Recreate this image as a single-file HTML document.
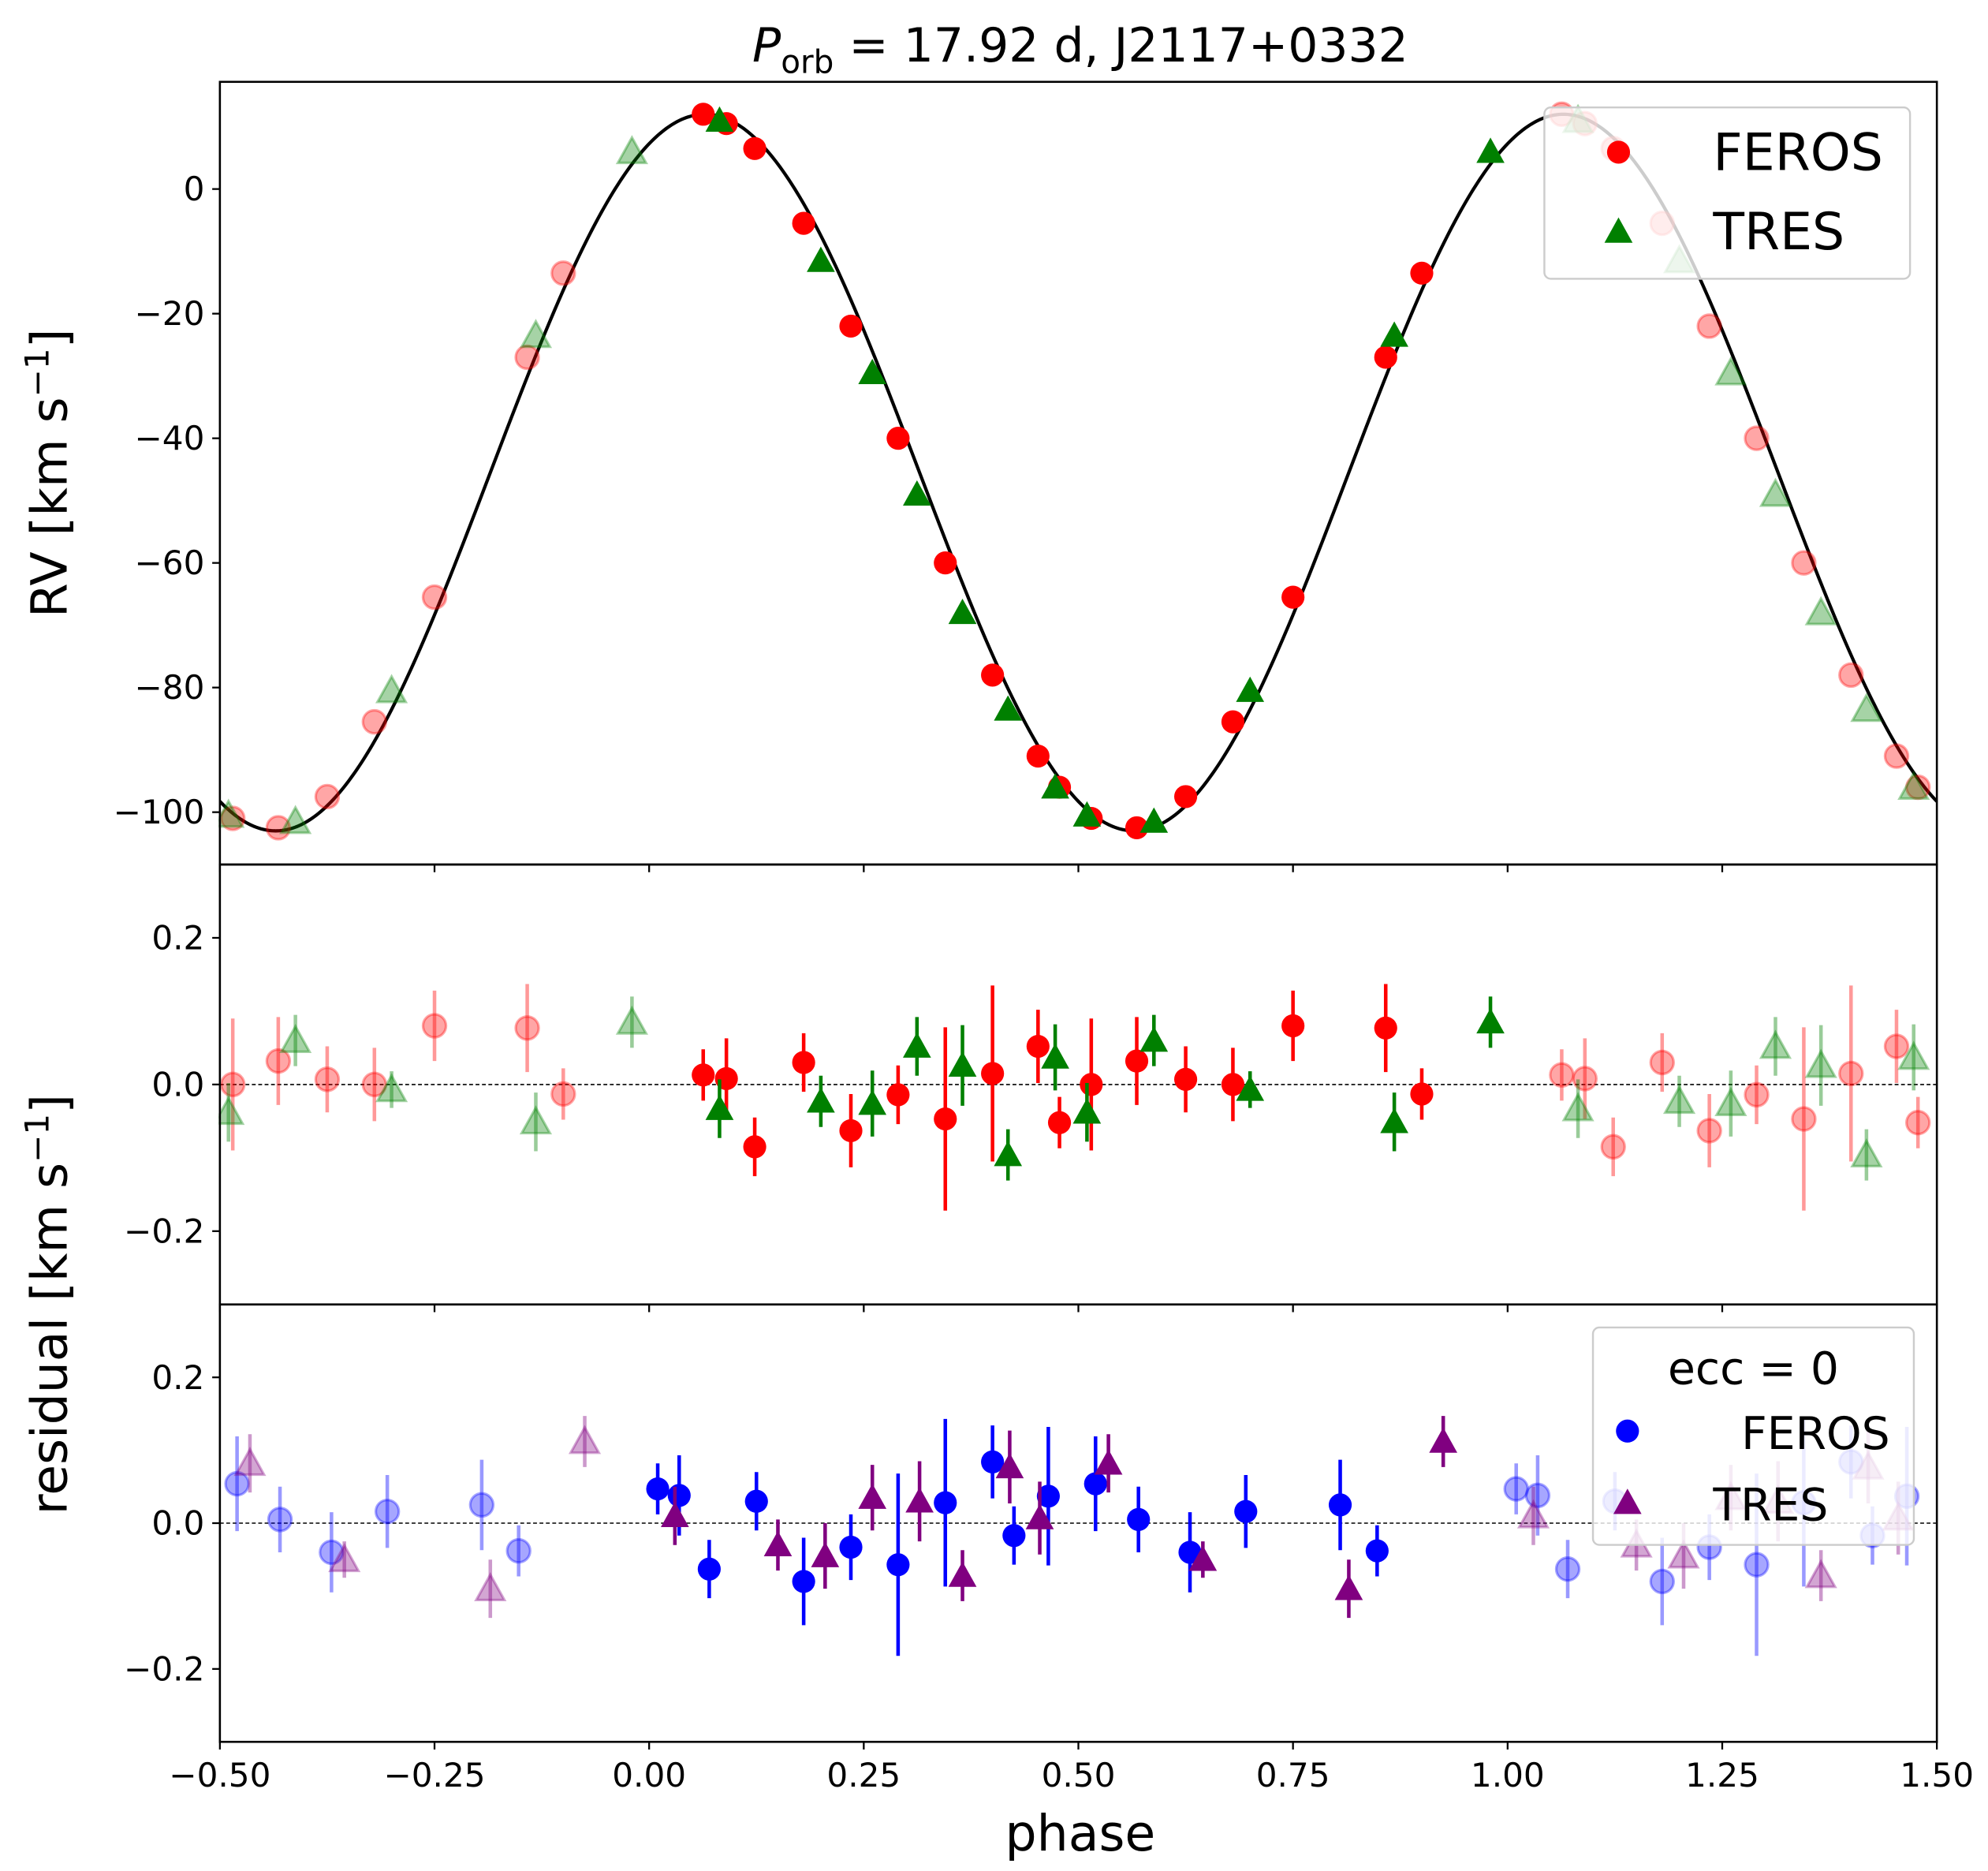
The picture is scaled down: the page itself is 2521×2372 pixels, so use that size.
<!DOCTYPE html>
<html><head><meta charset="utf-8"><style>
html,body{margin:0;padding:0;background:#fff}
svg{display:block}
text{font-family:"DejaVu Sans","Liberation Sans",sans-serif;fill:#000}
</style></head><body>
<svg id="chart" width="2521" height="2372" viewBox="0 0 1555 1463" preserveAspectRatio="none" xmlns="http://www.w3.org/2000/svg">
<g id="plot"></g>
</svg>
<script>
// ---- data ----
const feros_phase=[0.063,0.09,0.123,0.18,0.235,0.29,0.345,0.40,0.453,0.478,0.515,0.568,0.625,0.68,0.75,0.858,0.90];
const feros_rv=[12,10.5,6.5,-5.5,-22,-40,-60,-78,-91,-96,-101,-102.5,-97.5,-85.5,-65.5,-27,-13.5];
const feros_res=[0.013,0.008,-0.085,0.03,-0.063,-0.014,-0.047,0.015,0.052,-0.052,0,0.032,0.007,0,0.08,0.077,-0.013];
const feros_err=[0.035,0.055,0.04,0.04,0.05,0.04,0.125,0.12,0.05,0.035,0.09,0.06,0.045,0.05,0.048,0.06,0.035];
const tres_phase=[0.082,0.2,0.26,0.312,0.365,0.418,0.473,0.51,0.588,0.70,0.868,0.98];
const tres_rv=[11,-11.5,-29.5,-49,-68,-83.5,-96,-100.5,-101.5,-80.5,-23.5,6];
const tres_res=[-0.033,-0.023,-0.026,0.052,0.026,-0.096,0.037,-0.038,0.06,-0.007,-0.051,0.085];
const tres_err=[0.04,0.035,0.045,0.04,0.055,0.035,0.045,0.04,0.035,0.025,0.04,0.035];
const c_feros_phase=[0.01,0.035,0.07,0.125,0.18,0.235,0.29,0.345,0.40,0.425,0.465,0.52,0.57,0.63,0.695,0.805,0.848];
const c_feros_res=[0.047,0.038,-0.063,0.03,-0.08,-0.033,-0.057,0.028,0.084,-0.017,0.037,0.054,0.005,-0.04,0.016,0.025,-0.038];
const c_feros_err=[0.035,0.055,0.04,0.04,0.06,0.045,0.125,0.115,0.05,0.04,0.095,0.065,0.045,0.055,0.05,0.062,0.035];
const c_tres_phase=[0.03,0.15,0.205,0.26,0.315,0.365,0.42,0.455,0.535,0.645,0.815,0.925];
const c_tres_res=[0.01,-0.03,-0.045,0.035,0.03,-0.072,0.077,0.007,0.082,-0.05,-0.09,0.112];
const c_tres_err=[0.04,0.035,0.045,0.045,0.055,0.035,0.05,0.05,0.04,0.025,0.04,0.035];
const x_ticks=[-0.5,-0.25,0,0.25,0.5,0.75,1.0,1.25,1.5];
const x_tick_labels=["\u22120.50","\u22120.25","0.00","0.25","0.50","0.75","1.00","1.25","1.50"];
const rv_ticks=[0,-20,-40,-60,-80,-100];
const rv_tick_labels=["0","\u221220","\u221240","\u221260","\u221280","\u2212100"];
const res_ticks=[0.2,0,-0.2];
const res_tick_labels=["0.2","0.0","\u22120.2"];
const model_gamma=-45.5, model_K=57.5, model_phi0=0.065;

// ---- layout ----
const NS="http://www.w3.org/2000/svg";
const L=172,R=1515;
const P1={t:64,b:676,min:-108.4,max:17.2};
const P2={t:676,b:1020,min:-0.3,max:0.3};
const P3={t:1020,b:1362,min:-0.3,max:0.3};
const X=v=>L+(v+0.5)/2*(R-L);
const Y=(p,v)=>p.b-(v-p.min)/(p.max-p.min)*(p.b-p.t);
const root=document.getElementById('plot');
const TF=26;
function mk(tag,attrs,parent){const e=document.createElementNS(NS,tag);for(const k in attrs)e.setAttribute(k,attrs[k]);(parent||root).appendChild(e);return e;}

function circle(g,x,y,col,a){mk('circle',{cx:x,cy:y,r:9,fill:col,'fill-opacity':a<1?0.35:1,stroke:col,'stroke-opacity':a<1?0.35:1,'stroke-width':a<1?2:0},g);}
function tri(g,x,y,col,a){const s=11;mk('polygon',{points:`${x},${y-s} ${x-s},${y+s*0.8} ${x+s},${y+s*0.8}`,fill:col,'fill-opacity':a<1?0.35:1,stroke:col,'stroke-opacity':a<1?0.35:1,'stroke-width':a<1?2:0},g);}

function drawSeries(p,phases,vals,errs,col,shape,name){
  const g=mk('g',{});
  
  
  for(let i=0;i<phases.length;i++){
    for(const sh of [-1,0,1]){
      const ph=phases[i]+sh;
      if(ph<-0.5||ph>1.5)continue;
      const a=(sh===0)?1:0.4;
      const x=X(ph),y=Y(p,vals[i]);
      if(errs){mk('line',{x1:x,x2:x,y1:Y(p,vals[i]-errs[i]),y2:Y(p,vals[i]+errs[i]),stroke:col,'stroke-width':2.8,'stroke-opacity':a<1?0.4:1},g);}
      if(shape==='c')circle(g,x,y,col,a);else tri(g,x,y,col,a);
    }
  }
}

const defs=mk('defs',{});
[P1,P2,P3].forEach((p,i)=>{const c=mk('clipPath',{id:'clip'+i},defs);mk('rect',{x:L,y:p.t,width:R-L,height:p.b-p.t},c);});

let d='';
for(let k=0;k<=800;k++){const ph=-0.5+2*k/800;const v=model_gamma+model_K*Math.cos(2*Math.PI*(ph-model_phi0));d+=(k?'L':'M')+X(ph).toFixed(2)+','+Y(P1,v).toFixed(2);}
const curve=mk('path',{d:d,fill:'none',stroke:'#000','stroke-width':2.6,'clip-path':'url(#clip0)'});



[P2,P3].forEach(p=>{const z=mk('line',{x1:L,x2:R,y1:Y(p,0),y2:Y(p,0),stroke:'#000','stroke-width':1,'stroke-dasharray':'3,2'});

});

drawSeries(P1,feros_phase,feros_rv,null,'#ff0000','c','feros-rv-points');
drawSeries(P1,tres_phase,tres_rv,null,'#008000','t','tres-rv-points');
drawSeries(P2,feros_phase,feros_res,feros_err,'#ff0000','c','feros-residuals');
drawSeries(P2,tres_phase,tres_res,tres_err,'#008000','t','tres-residuals');
drawSeries(P3,c_feros_phase,c_feros_res,c_feros_err,'#0000ff','c','feros-residuals-circular');
drawSeries(P3,c_tres_phase,c_tres_res,c_tres_err,'#800080','t','tres-residuals-circular');

mk('rect',{x:0,y:50,width:L-1,height:1320,fill:'#fff'});
mk('rect',{x:R+1,y:50,width:60,height:1320,fill:'#fff'});

[P1,P2,P3].forEach((p,i)=>{
  const f=mk('rect',{x:L,y:p.t,width:R-L,height:p.b-p.t,fill:'none',stroke:'#000','stroke-width':1.6});
  
  
  x_ticks.forEach(t=>mk('line',{x1:X(t),x2:X(t),y1:p.b,y2:p.b+6,stroke:'#000','stroke-width':1.4}));
});
rv_ticks.forEach((t,i)=>{const y=Y(P1,t);mk('line',{x1:L-6,x2:L,y1:y,y2:y,stroke:'#000','stroke-width':1.4});
 const tx=mk('text',{x:L-12,y:y+9,'font-size':TF,'text-anchor':'end'});tx.textContent=rv_tick_labels[i];
 
 });
[P2,P3].forEach(p=>res_ticks.forEach((t,i)=>{const y=Y(p,t);mk('line',{x1:L-6,x2:L,y1:y,y2:y,stroke:'#000','stroke-width':1.4});
 const tx=mk('text',{x:L-12,y:y+9,'font-size':TF,'text-anchor':'end'});tx.textContent=res_tick_labels[i];
 
 }));
x_ticks.forEach((t,i)=>{const tx=mk('text',{x:X(t),y:P3.b+35,'font-size':TF,'text-anchor':'middle'});tx.textContent=x_tick_labels[i];
 
 });

function legend(x,y,w,h,items,title,name){
  const g=mk('g',{});
  
  
  mk('rect',{x:x,y:y,width:w,height:h,rx:5,fill:'#fff','fill-opacity':0.8,stroke:'#ccc','stroke-width':1.5},g);
  if(title){const t=mk('text',{x:x+w/2,y:y+44,'font-size':35,'text-anchor':'middle'},g);t.textContent=title;}
  items.forEach(it=>{ if(it.s==='c')circle(g,it.mx,it.my,it.col,1);else tri(g,it.mx,it.my,it.col,1);
    const t=mk('text',{x:it.tx,y:it.my+14,'font-size':it.fs},g);t.textContent=it.label;});
}
legend(1208,84,286,134,[{s:'c',col:'#ff0000',mx:1266,my:119,tx:1340,label:'FEROS',fs:40},{s:'t',col:'#008000',mx:1266,my:181,tx:1340,label:'TRES',fs:40}],null,'legend-top');
legend(1246,1038,251,170,[{s:'c',col:'#0000ff',mx:1273,my:1119,tx:1362,label:'FEROS',fs:35},{s:'t',col:'#800080',mx:1273,my:1175,tx:1340,label:'TRES',fs:35}],'ecc = 0','legend-bottom');

let t=mk('text',{x:845,y:48,'font-size':37,'text-anchor':'middle'});
t.innerHTML='<tspan font-style="italic">P</tspan><tspan font-size="25" dy="9">orb</tspan><tspan dy="-9"> = 17.92 d, J2117+0332</tspan>';


t=mk('text',{x:845,y:1447,'font-size':39,'text-anchor':'middle'});t.textContent='phase';


t=mk('text',{x:0,y:0,'font-size':39,'text-anchor':'middle',transform:'translate(52,370) rotate(-90)'});
t.innerHTML='RV [km s<tspan font-size="26" dy="-14">\u22121</tspan><tspan dy="14">]</tspan>';


t=mk('text',{x:0,y:0,'font-size':39,'text-anchor':'middle',transform:'translate(52,1020) rotate(-90)'});
t.innerHTML='residual [km s<tspan font-size="26" dy="-14">\u22121</tspan><tspan dy="14">]</tspan>';


</script>
</body></html>
